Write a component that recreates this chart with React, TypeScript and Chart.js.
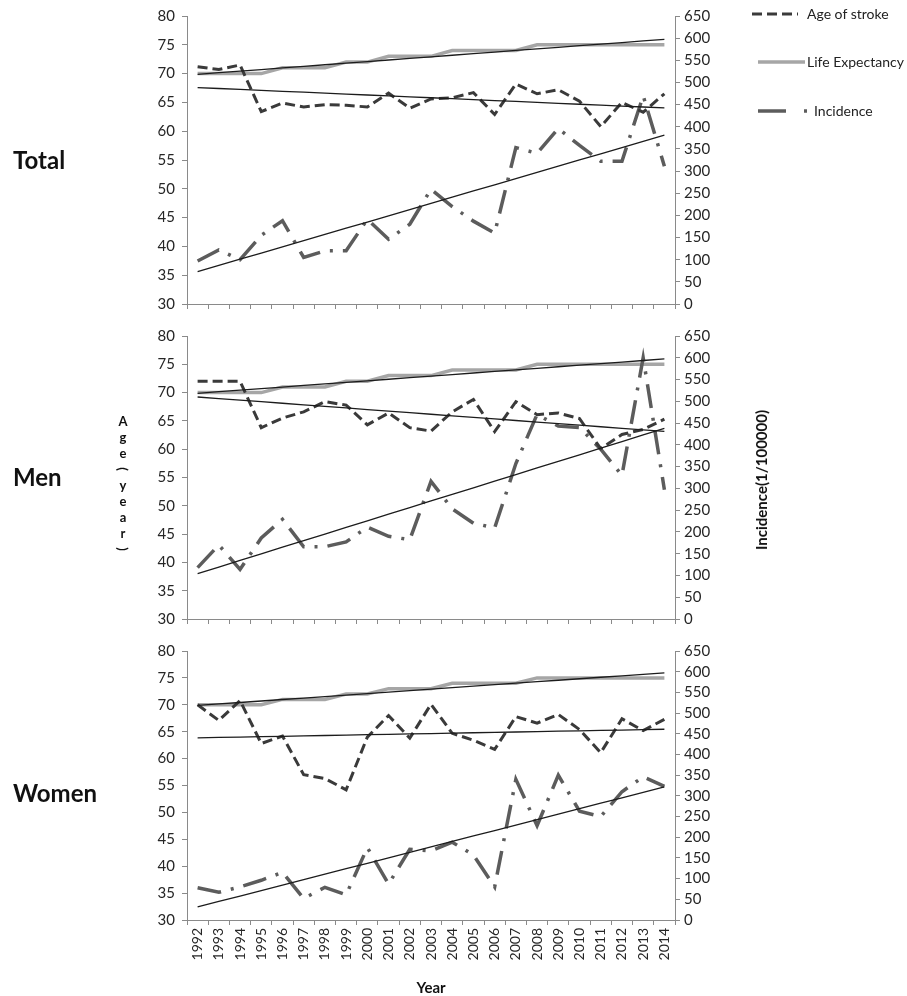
import React, { useEffect, useRef } from 'react';
import { Chart, registerables } from 'chart.js';

Chart.register(...registerables);

// ---------- data ----------
const years = ['1992', '1993', '1994', '1995', '1996', '1997', '1998', '1999', '2000', '2001', '2002', '2003', '2004', '2005', '2006', '2007', '2008', '2009', '2010', '2011', '2012', '2013', '2014'];

const lifeExpectancy = [70, 70, 70, 70, 71, 71, 71, 72, 72, 73, 73, 73, 74, 74, 74, 74, 75, 75, 75, 75, 75, 75, 75];

const totalAge = [71.2, 70.7, 71.5, 63.4, 64.9, 64.2, 64.6, 64.5, 64.2, 66.6, 64.0, 65.6, 65.8, 66.7, 62.9, 68.2, 66.5, 67.2, 65.2, 60.8, 65.0, 63.3, 66.5];
const totalIncidence = [97, 122, 100, 155, 188, 105, 120, 120, 191, 146, 180, 259, 220, 187, 160, 353, 340, 396, 358, 322, 322, 470, 311];

const menAge = [72.0, 72.0, 72.0, 63.8, 65.5, 66.6, 68.4, 67.8, 64.3, 66.4, 63.8, 63.2, 66.6, 68.8, 63.1, 68.4, 66.1, 66.4, 65.4, 60.1, 62.6, 63.5, 65.3];
const menIncidence = [118, 170, 114, 186, 229, 166, 166, 177, 211, 190, 182, 316, 253, 220, 209, 357, 470, 443, 440, 390, 330, 600, 297];

const womenAge = [70.0, 67.1, 70.8, 62.8, 64.2, 57.0, 56.3, 54.2, 64.0, 68.0, 63.8, 70.1, 64.7, 63.4, 61.7, 67.8, 66.6, 68.2, 65.4, 61.1, 67.4, 65.2, 67.3];
const womenIncidence = [78, 67, 80, 96, 115, 52, 79, 61, 175, 87, 171, 167, 188, 157, 80, 340, 228, 350, 263, 250, 310, 346, 323];

const ageRange = [30, 80];
const ageStep = 5;
const incidenceRange = [0, 650];
const incidenceStep = 50;

const seriesNames = ['Age of stroke', 'Life Expectancy', 'Incidence'];
const leftTitle = 'Age(year)';
const rightTitle = 'Incidence(1/100000)';
const xTitle = 'Year';

// least-squares linear trend line (Excel-style trendline)
function linearTrend(values: number[]): number[] {
  const n = values.length;
  const mx = (n - 1) / 2;
  const my = values.reduce((a, b) => a + b, 0) / n;
  let sxy = 0;
  let sxx = 0;
  values.forEach((v, i) => {
    sxy += (i - mx) * (v - my);
    sxx += (i - mx) * (i - mx);
  });
  const slope = sxy / sxx;
  return values.map((_, i) => my + slope * (i - mx));
}

const FONT = 'Lato, "Open Sans", sans-serif';
const AGE_COLOR = '#3a3a3a';
const LIFE_COLOR = '#a6a6a6';
const INC_COLOR = '#5c5c5c';
const TREND_COLOR = '#1c1c1c';
const AXIS_COLOR = '#8a8a8a';
const TICK_COLOR = '#262626';
const AGE_DASH = [10, 5];
const INC_DASH = [24, 10, 3, 10];

const PLOT_LEFT = 187;
const PLOT_RIGHT = 675;
const CANVAS_W = 907;

type PanelProps = {
  top: number;
  height: number;
  plotTop: number;
  plotBottom: number;
  age: number[];
  incidence: number[];
  showYears: boolean;
};

function Panel({ top, height, plotTop, plotBottom, age, incidence, showYears }: PanelProps) {
  const ref = useRef<HTMLCanvasElement | null>(null);

  useEffect(() => {
    if (!ref.current) return;
    const trendStyle = {
      borderColor: TREND_COLOR,
      borderWidth: 1.3,
      pointRadius: 0,
      fill: false,
    };
    const chart = new Chart(ref.current, {
      type: 'line',
      data: {
        labels: years,
        datasets: [
          { label: 'trend age', data: linearTrend(age), yAxisID: 'y', ...trendStyle },
          { label: 'trend life', data: linearTrend(lifeExpectancy), yAxisID: 'y', ...trendStyle },
          { label: 'trend incidence', data: linearTrend(incidence), yAxisID: 'y1', ...trendStyle },
          {
            label: seriesNames[0],
            data: age,
            yAxisID: 'y',
            borderColor: AGE_COLOR,
            borderWidth: 3,
            borderDash: AGE_DASH,
            pointRadius: 0,
            fill: false,
          },
          {
            label: seriesNames[2],
            data: incidence,
            yAxisID: 'y1',
            borderColor: INC_COLOR,
            borderWidth: 3.5,
            borderDash: INC_DASH,
            pointRadius: 0,
            fill: false,
          },
          {
            label: seriesNames[1],
            data: lifeExpectancy,
            yAxisID: 'y',
            borderColor: LIFE_COLOR,
            borderWidth: 3.5,
            pointRadius: 0,
            fill: false,
          },
        ],
      },
      options: {
        animation: false,
        responsive: false,
        maintainAspectRatio: false,
        layout: { padding: { top: plotTop - top, left: 0, right: 0, bottom: 0 } },
        plugins: { legend: { display: false }, tooltip: { enabled: false } },
        elements: { line: { tension: 0 }, point: { radius: 0 } },
        scales: {
          x: {
            type: 'category',
            offset: true,
            grid: { offset: true, drawOnChartArea: false, drawTicks: true, tickLength: 5, color: AXIS_COLOR },
            border: { color: AXIS_COLOR, width: 1 },
            ticks: {
              display: showYears,
              autoSkip: false,
              minRotation: 90,
              maxRotation: 90,
              padding: 3,
              color: TICK_COLOR,
              font: { family: FONT, size: 14 },
            },
            afterFit: (s: any) => {
              s.height = top + height - plotBottom;
            },
          },
          y: {
            position: 'left',
            min: ageRange[0],
            max: ageRange[1],
            grid: { drawOnChartArea: false, drawTicks: true, tickLength: 5, color: AXIS_COLOR },
            border: { color: AXIS_COLOR, width: 1 },
            ticks: { stepSize: ageStep, autoSkip: false, padding: 7, color: TICK_COLOR, font: { family: FONT, size: 15 } },
            afterFit: (s: any) => {
              s.width = PLOT_LEFT;
            },
          },
          y1: {
            position: 'right',
            min: incidenceRange[0],
            max: incidenceRange[1],
            grid: { drawOnChartArea: false, drawTicks: true, tickLength: 5, color: AXIS_COLOR },
            border: { color: AXIS_COLOR, width: 1 },
            ticks: { stepSize: incidenceStep, autoSkip: false, padding: 4, color: TICK_COLOR, font: { family: FONT, size: 15 } },
            afterFit: (s: any) => {
              s.width = CANVAS_W - PLOT_RIGHT;
            },
          },
        },
      },
    });
    return () => chart.destroy();
  }, []);

  return (
    <canvas
      ref={ref}
      width={CANVAS_W}
      height={height}
      style={{ position: 'absolute', left: 0, top, width: CANVAS_W, height }}
    />
  );
}

function LegendLine({ x1, x2, y, color, width, dash, dot }: { x1: number; x2: number; y: number; color: string; width: number; dash?: number[]; dot?: number }) {
  return (
    <svg style={{ position: 'absolute', left: 0, top: 0, overflow: 'visible' }} width={1} height={1}>
      <line x1={x1} y1={y} x2={x2} y2={y} stroke={color} strokeWidth={width} strokeDasharray={dash ? dash.join(' ') : undefined} />
      {dot !== undefined && <line x1={dot} y1={y} x2={dot + 3} y2={y} stroke={color} strokeWidth={width} />}
    </svg>
  );
}

export default function App() {
  const panelLabel = (text: string, cy: number) => (
    <div
      style={{
        position: 'absolute',
        left: 13,
        top: cy - 15,
        height: 30,
        lineHeight: '30px',
        fontFamily: FONT,
        fontWeight: 700,
        fontSize: 24,
        color: '#111',
      }}
    >
      {text}
    </div>
  );

  const legendText = (text: string, x: number, cy: number) => (
    <div
      style={{
        position: 'absolute',
        left: x,
        top: cy - 9,
        height: 18,
        lineHeight: '18px',
        fontFamily: FONT,
        fontSize: 14,
        color: '#222',
        whiteSpace: 'nowrap',
      }}
    >
      {text}
    </div>
  );

  return (
    <div style={{ position: 'absolute', left: 0, top: 0, width: 907, height: 996, background: '#fff', overflow: 'hidden' }}>
      <Panel top={0} height={320} plotTop={16} plotBottom={305} age={totalAge} incidence={totalIncidence} showYears={false} />
      <Panel top={320} height={315} plotTop={331} plotBottom={621} age={menAge} incidence={menIncidence} showYears={false} />
      <Panel top={635} height={361} plotTop={646} plotBottom={920} age={womenAge} incidence={womenIncidence} showYears={true} />

      {panelLabel('Total', 160)}
      {panelLabel('Men', 477)}
      {panelLabel('Women', 793)}

      {/* left stacked axis title */}
      <div
        style={{
          position: 'absolute',
          left: 114,
          top: 413,
          width: 18,
          fontFamily: FONT,
          fontWeight: 700,
          fontSize: 13,
          color: '#111',
          textAlign: 'center',
        }}
      >
        {leftTitle.split('').map((ch, i) => (
          <div
            key={i}
            style={{
              height: 16,
              lineHeight: '16px',
              transform: ch === '(' || ch === ')' ? 'rotate(90deg)' : undefined,
            }}
          >
            {ch}
          </div>
        ))}
      </div>

      {/* right axis title */}
      <div
        style={{
          position: 'absolute',
          left: 761,
          top: 480,
          transform: 'translate(-50%, -50%) rotate(-90deg)',
          fontFamily: FONT,
          fontWeight: 700,
          fontSize: 15,
          color: '#111',
          whiteSpace: 'nowrap',
        }}
      >
        {rightTitle}
      </div>

      {/* x axis title */}
      <div
        style={{
          position: 'absolute',
          left: (PLOT_LEFT + PLOT_RIGHT) / 2,
          top: 987,
          transform: 'translate(-50%, -50%)',
          fontFamily: FONT,
          fontWeight: 700,
          fontSize: 15,
          color: '#111',
        }}
      >
        {xTitle}
      </div>

      {/* legend */}
      <LegendLine x1={752} x2={798} y={14} color={AGE_COLOR} width={3} dash={AGE_DASH} />
      {legendText(seriesNames[0], 807, 14)}
      <LegendLine x1={758} x2={805} y={62} color={LIFE_COLOR} width={3.5} />
      {legendText(seriesNames[1], 807, 62)}
      <LegendLine x1={758} x2={786} y={111} color={INC_COLOR} width={3.5} dot={804} />
      {legendText(seriesNames[2], 814, 111)}
    </div>
  );
}
